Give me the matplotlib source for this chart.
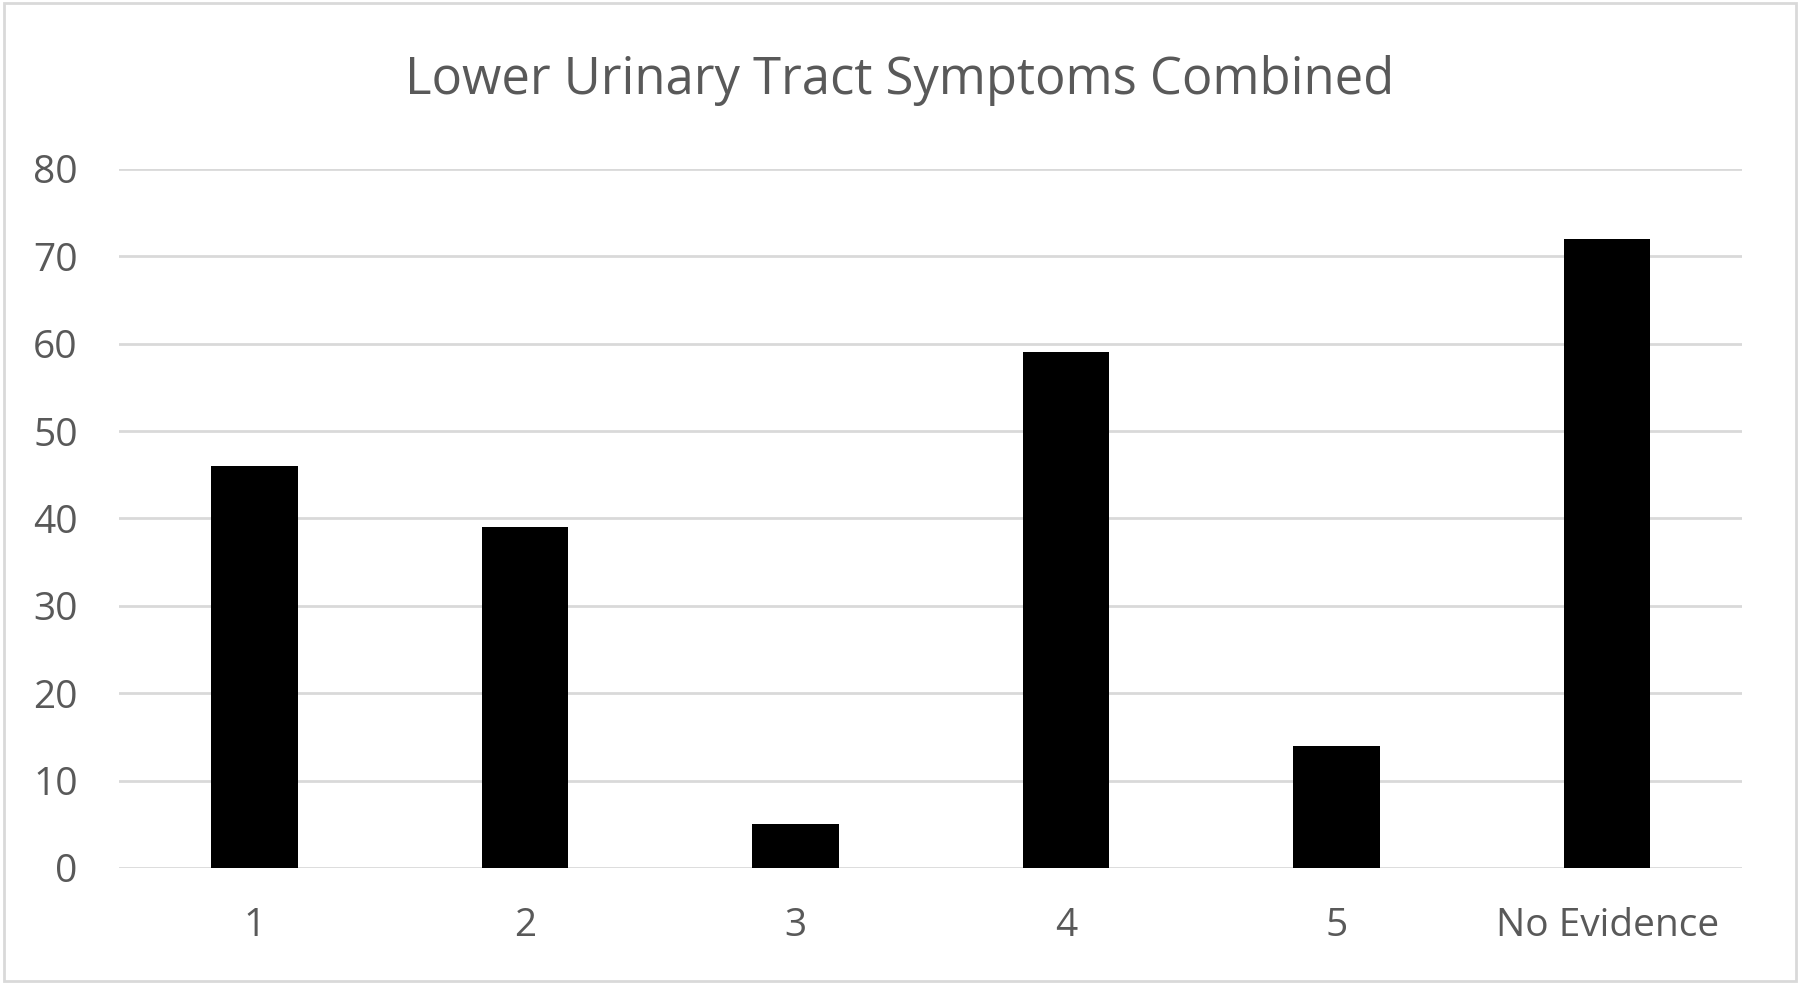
import matplotlib.pyplot as plt
from matplotlib.patches import Rectangle

categories = ["1", "2", "3", "4", "5", "No Evidence"]
counts = [46, 39, 5, 59, 14, 72]
yticks = [0, 10, 20, 30, 40, 50, 60, 70, 80]

plt.rcParams["font.family"] = ["Open Sans", "DejaVu Sans"]
grey = "#595959"

fig = plt.figure(figsize=(18, 9.84), dpi=100)
ax = fig.add_axes([0.0663, 0.1179, 0.9017, 0.7104])

x = range(len(categories))
ax.bar(x, counts, width=0.32, color="black", zorder=3)

ax.set_xlim(-0.5, len(categories) - 0.5)
ax.set_ylim(0, 80)
ax.set_yticks(yticks)
ax.set_xticks(list(x))
ax.set_xticklabels(categories)
ax.yaxis.grid(True, color="#d9d9d9", linewidth=2, zorder=0)
ax.set_axisbelow(True)
for s in ax.spines.values():
    s.set_visible(False)
ax.tick_params(length=0, labelsize=28, labelcolor=grey)
ax.tick_params(axis="y", pad=30)
ax.tick_params(axis="x", pad=28)

fig.text(0.5, 0.918, "Lower Urinary Tract Symptoms Combined",
         ha="center", va="center", fontsize=36.5, color=grey)

fig.patches.append(Rectangle((0.002, 0.003), 0.996, 0.994, transform=fig.transFigure,
                             fill=False, edgecolor="#d9d9d9", linewidth=2))

fig.savefig("out.png", dpi=100, facecolor="white")
